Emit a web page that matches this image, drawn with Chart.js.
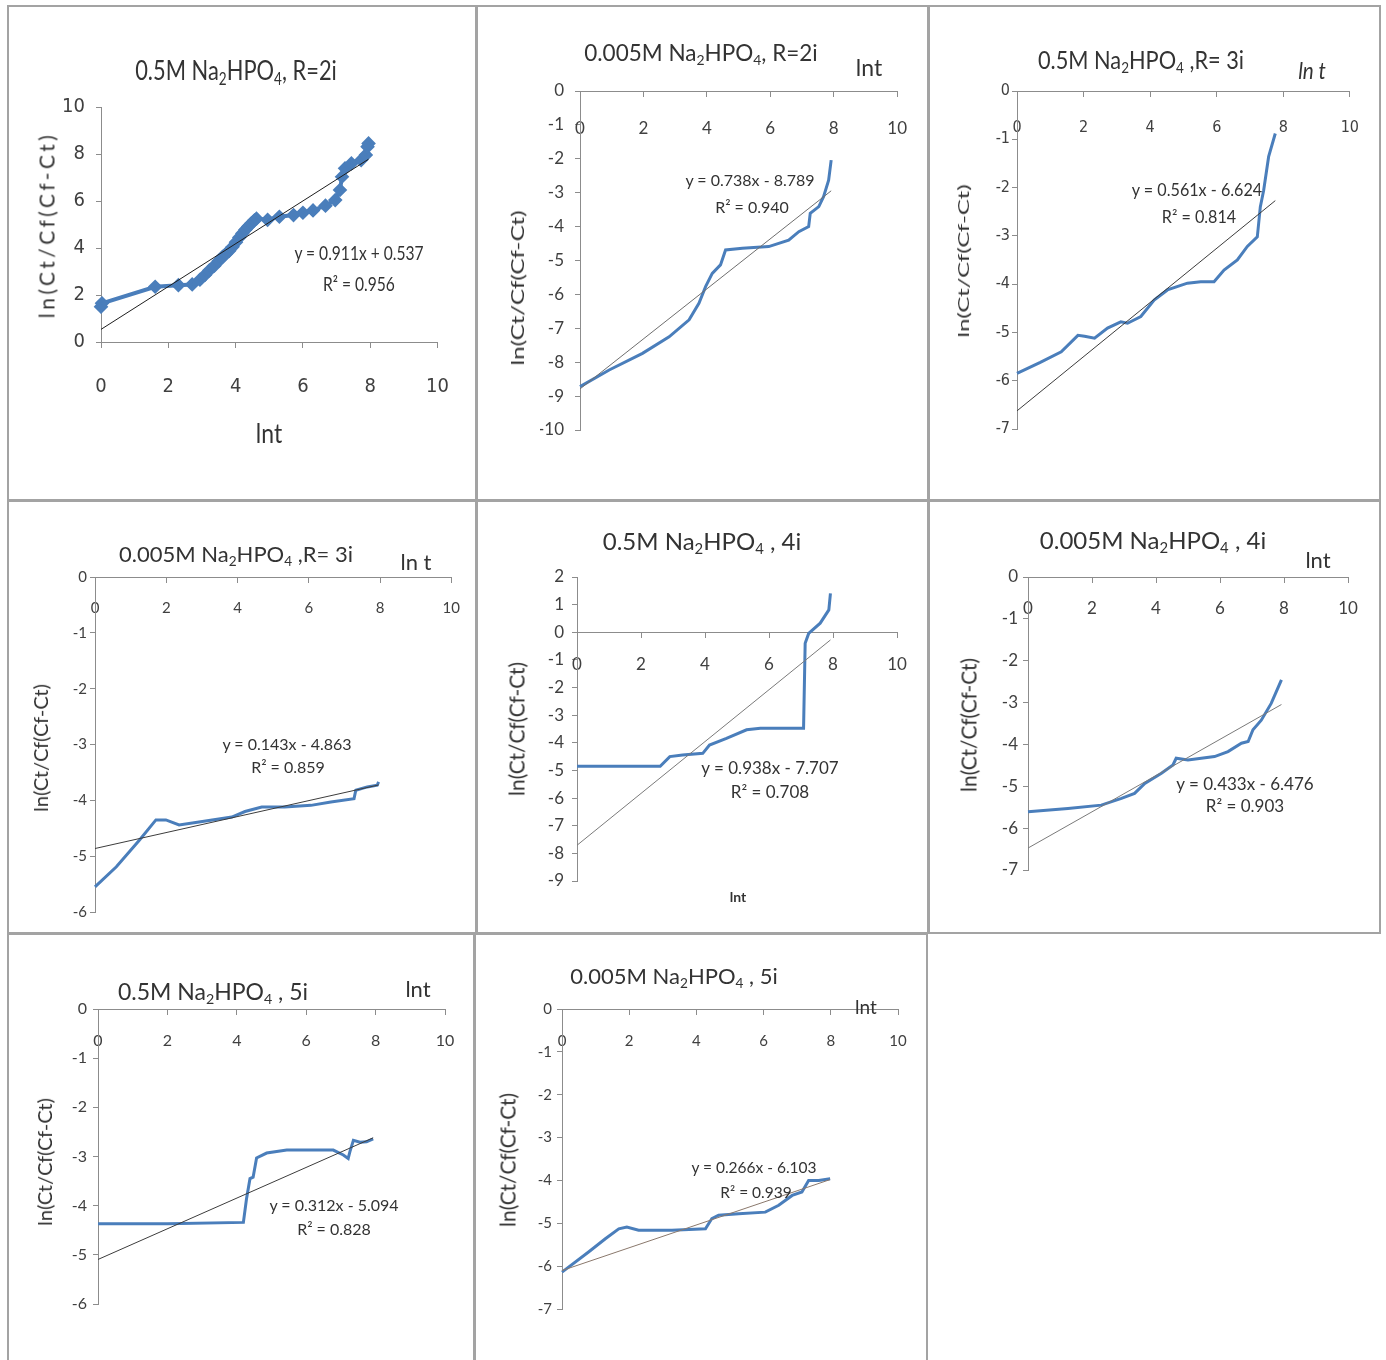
<!DOCTYPE html>
<html lang="en">
<head>
<meta charset="UTF-8">
<title>ln(Ct/Cf(Cf-Ct)) versus ln t</title>
<script src="https://cdn.jsdelivr.net/npm/chart.js"></script>
<style>
  html, body { margin: 0; padding: 0; background: #fff; }
  body { position: relative; width: 1386px; height: 1360px; overflow: hidden; color: #333; }
  .panel { position: absolute; box-shadow: inset 0 0 0 2px #a3a3a3; }
  .panel canvas { position: absolute; left: 0; top: 0; }
  .lbl { position: absolute; white-space: nowrap; line-height: 1; }
  .lbl sub { font-size: 0.62em; vertical-align: -0.3em; line-height: 0; }
</style>
</head>
<body>
<script>
// x = ln t, y = ln(Ct/Cf(Cf-Ct)) -- one pair of arrays per panel
const p1Lnt = [0.00, 0.03, 1.61, 2.30, 2.71, 2.94, 3.09, 3.22, 3.37, 3.50, 3.61, 3.71, 3.81, 3.91, 4.01, 4.11, 4.20, 4.29, 4.38, 4.47, 4.56, 4.62, 4.95, 5.30, 5.72, 6.00, 6.30, 6.67, 6.96, 7.10, 7.16, 7.25, 7.44, 7.73, 7.87, 7.92, 7.95];
const p1Val = [1.50, 1.65, 2.35, 2.42, 2.45, 2.65, 2.85, 3.05, 3.25, 3.45, 3.62, 3.75, 3.88, 4.05, 4.25, 4.45, 4.62, 4.78, 4.92, 5.05, 5.18, 5.25, 5.20, 5.33, 5.40, 5.50, 5.60, 5.80, 6.04, 6.47, 7.03, 7.39, 7.60, 7.74, 7.96, 8.31, 8.45];

const p2Lnt = [0.00, 0.92, 1.97, 2.81, 3.44, 3.75, 3.96, 4.17, 4.43, 4.59, 5.12, 5.95, 6.58, 6.90, 7.21, 7.26, 7.53, 7.68, 7.84, 7.92];
const p2Val = [-8.72, -8.23, -7.74, -7.25, -6.75, -6.26, -5.77, -5.38, -5.13, -4.69, -4.64, -4.59, -4.40, -4.15, -4.00, -3.61, -3.41, -3.12, -2.63, -2.04];

const p3Lnt = [0.00, 0.70, 1.33, 1.83, 2.03, 2.33, 2.72, 3.12, 3.32, 3.72, 4.12, 4.52, 5.12, 5.52, 5.92, 6.22, 6.62, 6.92, 7.22, 7.31, 7.41, 7.56, 7.76];
const p3Val = [-5.85, -5.62, -5.40, -5.06, -5.08, -5.12, -4.91, -4.78, -4.81, -4.67, -4.33, -4.12, -3.98, -3.95, -3.95, -3.71, -3.50, -3.22, -3.02, -2.40, -2.06, -1.36, -0.88];

const p4Lnt = [0.00, 0.60, 1.25, 1.71, 1.99, 2.36, 2.92, 3.84, 4.21, 4.68, 5.32, 6.06, 6.62, 7.27, 7.32, 7.64, 7.92, 7.96];
const p4Val = [-5.55, -5.19, -4.71, -4.35, -4.35, -4.44, -4.39, -4.30, -4.20, -4.12, -4.12, -4.09, -4.03, -3.97, -3.82, -3.76, -3.73, -3.67];

const p5Lnt = [0.00, 1.50, 2.60, 2.90, 3.30, 3.93, 4.14, 4.67, 5.30, 5.73, 7.08, 7.13, 7.24, 7.60, 7.87, 7.92];
const p5Val = [-4.85, -4.85, -4.85, -4.50, -4.44, -4.38, -4.08, -3.84, -3.53, -3.47, -3.47, -0.40, -0.04, 0.33, 0.81, 1.41];

const p6Lnt = [0.00, 1.25, 2.29, 2.92, 3.33, 3.65, 4.17, 4.53, 4.63, 5.00, 5.83, 6.25, 6.67, 6.88, 7.03, 7.29, 7.60, 7.92];
const p6Val = [-5.61, -5.53, -5.45, -5.29, -5.17, -4.93, -4.69, -4.49, -4.33, -4.37, -4.29, -4.17, -3.97, -3.93, -3.65, -3.42, -3.02, -2.46];

const p7Lnt = [0.00, 2.00, 4.19, 4.28, 4.38, 4.47, 4.57, 4.86, 5.44, 6.78, 7.07, 7.21, 7.26, 7.36, 7.55, 7.74, 7.93];
const p7Val = [-4.37, -4.37, -4.34, -3.86, -3.45, -3.42, -3.03, -2.93, -2.87, -2.87, -2.97, -3.04, -2.90, -2.67, -2.71, -2.70, -2.64];

const p8Lnt = [0.00, 0.79, 1.29, 1.69, 1.93, 2.28, 3.27, 4.27, 4.46, 4.66, 5.26, 6.05, 6.45, 6.85, 7.14, 7.34, 7.64, 7.98];
const p8Val = [-6.14, -5.67, -5.36, -5.13, -5.09, -5.16, -5.16, -5.13, -4.89, -4.81, -4.78, -4.74, -4.58, -4.35, -4.27, -4.00, -4.00, -3.96];

// linear trend lines as printed on each panel
const trendSlope = [0.911, 0.738, 0.561, 0.143, 0.938, 0.433, 0.312, 0.266];
const trendIntercept = [0.537, -8.789, -6.624, -4.863, -7.707, -6.476, -5.094, -6.103];
const trendR2 = ['0.956', '0.940', '0.814', '0.859', '0.708', '0.903', '0.828', '0.939'];

// panel titles
const conc = ['0.5M', '0.005M', '0.5M', '0.005M', '0.5M', '0.005M', '0.5M', '0.005M'];
const runTag = [', R=2i', ', R=2i', ' ,R= 3i', ' ,R= 3i', ' , 4i', ' , 4i', ' , 5i', ' , 5i'];

// axis ranges / ticks
const xTicks = [0, 2, 4, 6, 8, 10];
const yMin = [0, -10, -7, -6, -9, -7, -6, -7];
const yMax = [10, 0, 0, 0, 2, 0, 0, 0];
const yStep = [2, 1, 1, 1, 1, 1, 1, 1];

const series = [[p1Lnt, p1Val], [p2Lnt, p2Val], [p3Lnt, p3Val], [p4Lnt, p4Val],
                [p5Lnt, p5Val], [p6Lnt, p6Val], [p7Lnt, p7Val], [p8Lnt, p8Val]];

const cond = '"DejaVu Sans Condensed", "Liberation Sans Narrow", sans-serif';
const lato = 'Lato, "Open Sans", sans-serif';
const Y_W = 40; // width reserved for the y scale (ticks + labels)

// frames, plot areas and text placement, in page pixels
const layout = [
  { box: [7, 5, 470, 496], area: [101, 107, 449, 342], tf: cond, ts: 20, yGap: 16, xOff: 45, lineW: 4, marker: true, trend: '#1e1e1e',
    title: {x: 236, y: 69, f: lato, s: 27, sx: 0.81}, xName: {t: 'lnt', x: 269, y: 432, f: lato, s: 27, sx: 0.85},
    yName: {x: 46, y: 225, f: lato, s: 21, ls: 3.5}, eq: {x: 359, y: 252, f: lato, s: 19, sx: 0.82}, r2: {x: 359, y: 283, f: lato, s: 19, sx: 0.82} },
  { box: [476, 5, 453, 496], area: [580, 91, 898, 430], tf: lato, ts: 17, yGap: 16, xOff: 37, lineW: 3, trend: '#6e6e6e',
    title: {x: 701, y: 53, f: lato, s: 22.5}, xName: {t: 'lnt', x: 869, y: 67, f: lato, s: 23},
    yName: {x: 517, y: 288, f: lato, s: 18, sx: 1.35}, eq: {x: 750, y: 180, f: lato, s: 16}, r2: {x: 752, y: 207, f: lato, s: 16} },
  { box: [928, 5, 453, 496], area: [1017, 91, 1351, 429], tf: cond, ts: 16, yGap: 7, xOff: 37, lineW: 3, trend: '#3c3c3c',
    title: {x: 1141, y: 59, f: lato, s: 25, sx: 0.87}, xName: {t: 'ln t', x: 1312, y: 70, f: lato, s: 23, it: true, sx: 0.9},
    yName: {x: 963, y: 261, f: lato, s: 16, sx: 1.5}, eq: {x: 1197, y: 189, f: lato, s: 17, sx: 0.95}, r2: {x: 1199, y: 216, f: lato, s: 17, sx: 0.95} },
  { box: [7, 500, 470, 434], area: [95, 577, 455, 912], tf: lato, ts: 15, yGap: 8, xOff: 31, lineW: 3, trend: '#3c3c3c',
    title: {x: 236, y: 554, f: lato, s: 22}, xName: {t: 'ln t', x: 416, y: 562, f: lato, s: 22},
    yName: {x: 40, y: 748, f: lato, s: 20}, eq: {x: 287, y: 744, f: lato, s: 16}, r2: {x: 288, y: 767, f: lato, s: 16} },
  { box: [476, 500, 453, 434], area: [577, 577, 897, 881], tf: lato, ts: 17, yGap: 13, xOff: 32, lineW: 3, trend: '#7a7a7a',
    title: {x: 702, y: 541, f: lato, s: 24}, xName: {t: 'lnt', x: 738, y: 897, f: lato, s: 14, b: true},
    yName: {x: 516, y: 729, f: lato, s: 21}, eq: {x: 770, y: 767, f: lato, s: 17}, r2: {x: 770, y: 791, f: lato, s: 17} },
  { box: [928, 500, 453, 434], area: [1028, 577, 1348, 870], tf: lato, ts: 17, yGap: 10, xOff: 31, lineW: 3, trend: '#7a7a7a',
    title: {x: 1153, y: 540, f: lato, s: 24}, xName: {t: 'lnt', x: 1318, y: 560, f: lato, s: 22},
    yName: {x: 968, y: 725, f: lato, s: 21}, eq: {x: 1245, y: 783, f: lato, s: 17}, r2: {x: 1245, y: 805, f: lato, s: 17} },
  { box: [7, 933, 468, 430], area: [98, 1009, 445, 1304], tf: lato, ts: 16, yGap: 11, xOff: 32, lineW: 3, trend: '#3c3c3c',
    title: {x: 213, y: 991, f: lato, s: 23}, xName: {t: 'lnt', x: 418, y: 989, f: lato, s: 22},
    yName: {x: 44, y: 1162, f: lato, s: 20}, eq: {x: 334, y: 1205, f: lato, s: 16}, r2: {x: 334, y: 1229, f: lato, s: 16} },
  { box: [474, 933, 454, 430], area: [562, 1009, 898, 1309], tf: lato, ts: 15, yGap: 10, xOff: 32, lineW: 3, trend: '#8a786c',
    title: {x: 674, y: 976, f: lato, s: 22}, xName: {t: 'lnt', x: 866, y: 1006, f: lato, s: 19},
    yName: {x: 507, y: 1160, f: lato, s: 21}, eq: {x: 754, y: 1168, f: lato, s: 15.5}, r2: {x: 756, y: 1193, f: lato, s: 15.5} }
];

function addText(html, o, rot) {
  const d = document.createElement('div');
  d.className = 'lbl';
  d.innerHTML = html;
  d.style.left = o.x + 'px';
  d.style.top = o.y + 'px';
  d.style.fontFamily = o.f;
  d.style.fontSize = o.s + 'px';
  if (o.it) d.style.fontStyle = 'italic';
  if (o.b) d.style.fontWeight = 'bold';
  if (o.ls) d.style.letterSpacing = o.ls + 'px';
  let tf = 'translate(-50%, -50%)';
  if (rot) tf += ' rotate(-90deg)';
  if (o.sx) tf += ' scaleX(' + o.sx + ')';
  d.style.transform = tf;
  document.body.appendChild(d);
}

function fmtEq(i) {
  const b = trendIntercept[i];
  return 'y = ' + trendSlope[i].toFixed(3) + 'x ' + (b < 0 ? '- ' : '+ ') + Math.abs(b).toFixed(3);
}

layout.forEach((L, i) => {
  const [bx, by, bw, bh] = L.box;
  const [al, at, ar, ab] = L.area;

  const wrap = document.createElement('div');
  wrap.className = 'panel';
  Object.assign(wrap.style, {left: bx + 'px', top: by + 'px', width: bw + 'px', height: bh + 'px'});
  const cv = document.createElement('canvas');
  cv.width = bw;
  cv.height = bh;
  cv.style.width = bw + 'px';
  cv.style.height = bh + 'px';
  wrap.appendChild(cv);
  document.body.appendChild(wrap);

  const xs = series[i][0], ys = series[i][1];
  const pts = xs.map((x, k) => ({x: x, y: ys[k]}));
  const xEnd = xs[xs.length - 1];
  const trendPts = [0, xEnd].map(x => ({x: x, y: trendSlope[i] * x + trendIntercept[i]}));

  const axisGrey = '#8c8c8c';
  const tickFont = {family: L.tf, size: L.ts};

  new Chart(cv, {
    type: 'scatter',
    data: {
      datasets: [
        { data: trendPts, showLine: true, borderColor: L.trend, borderWidth: 1, pointRadius: 0, order: 0 },
        { data: pts, showLine: true, borderColor: '#4a7ebb', borderWidth: L.lineW,
          pointRadius: L.marker ? 4.5 : 0, pointStyle: 'rectRot',
          pointBackgroundColor: '#4a7ebb', pointBorderColor: '#4a7ebb', order: 1, clip: 10 }
      ]
    },
    options: {
      responsive: false,
      animation: false,
      devicePixelRatio: 1,
      layout: { padding: { left: al - bx - Y_W, top: at - by, right: bx + bw - ar, bottom: by + bh - ab } },
      plugins: { legend: { display: false }, tooltip: { enabled: false } },
      scales: {
        x: {
          type: 'linear', position: { y: 0 }, min: xTicks[0], max: xTicks[xTicks.length - 1],
          afterBuildTicks: s => { s.ticks = xTicks.map(v => ({value: v})); },
          ticks: { padding: Math.round(L.xOff - 5 - 0.6 * L.ts), color: '#404040', font: tickFont, maxRotation: 0, autoSkip: false },
          grid: { display: true, drawOnChartArea: false, drawTicks: true, tickLength: 5, color: axisGrey },
          border: { display: true, color: axisGrey, width: 1 }
        },
        y: {
          type: 'linear', position: 'left', min: yMin[i], max: yMax[i],
          afterFit: s => { s.width = Y_W; },
          ticks: { stepSize: yStep[i], padding: Math.max(L.yGap - 5, 1), color: '#404040', font: tickFont, autoSkip: false },
          grid: { display: true, drawOnChartArea: false, drawTicks: true, tickLength: 5, color: axisGrey },
          border: { display: true, color: axisGrey, width: 1 }
        }
      }
    }
  });

  addText(conc[i] + ' Na<sub>2</sub>HPO<sub>4</sub>' + runTag[i], L.title);
  addText(L.xName.t, L.xName);
  addText('ln(Ct/Cf(Cf-Ct)', L.yName, true);
  addText(fmtEq(i), L.eq);
  addText('R² = ' + trendR2[i], L.r2);
});
</script>
</body>
</html>
